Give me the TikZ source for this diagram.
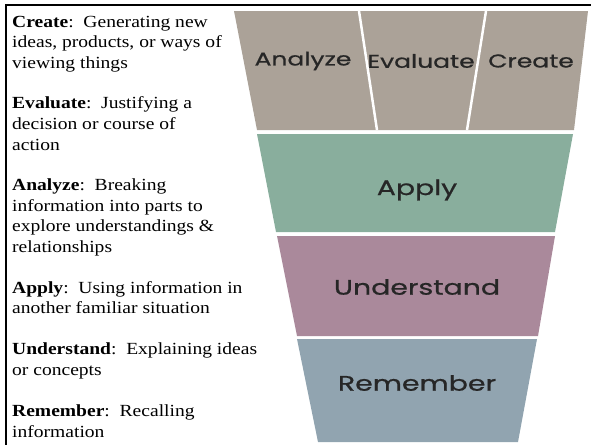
\documentclass[tikz,border=0pt]{standalone}
\usepackage{fontspec}
\setmainfont{Liberation Serif}[FakeStretch=1.15]
\newfontfamily\tierfont{Poppins}[FakeStretch=1.35, FakeBold=0.8]
\usepackage{tikz}

\definecolor{thinktan}{RGB}{171,162,152}
\definecolor{applygreen}{RGB}{137,174,157}
\definecolor{understandpink}{RGB}{170,137,155}
\definecolor{rememberblue}{RGB}{145,164,176}

\begin{document}
\begin{tikzpicture}[x=1pt,y=-1pt,
    tierlabel/.style={font=\tierfont\fontsize{21}{24}\selectfont, color=black!85, inner sep=0},
    toplabel/.style={tierlabel, font=\tierfont\fontsize{18.5}{22}\selectfont},
    levelnote/.style={font=\fontsize{17}{20.6}\selectfont, align=left, anchor=base west, inner sep=0}]
               \useasboundingbox (0,0) rectangle (591,445);
               \draw[line width=2.5pt] (5,5) -- (591,5);
               \draw[line width=2pt] (6,4) -- (6,445);
               % funnel
               \fill[color=thinktan] (234,11) -- (588,11) -- (574,130) -- (257,130) -- cycle;
               \draw[color=white, line width=2.5pt] (359,11) -- (377,130);
               \draw[color=white, line width=2.5pt] (486,11) -- (467,130);
               \fill[color=applygreen] (257,134) -- (573,134) -- (555,232) -- (276,232) -- cycle;
               \fill[color=understandpink] (277,236) -- (555,236) -- (538,336) -- (297,336) -- cycle;
               \fill[color=rememberblue] (297,339) -- (537,339) -- (518,442) -- (318,442) -- cycle;
               \node[toplabel] (analyze) at (303,61) {Analyze};
               \node[toplabel] (evaluate) at (421,61) {Evaluate};
               \node[toplabel] (create) at (531,61) {Create};
               \node[tierlabel] (apply) at (417,190) {Apply};
               \node[tierlabel] (understand) at (417,287) {Understand};
               \node[tierlabel] (remember) at (417,383) {Remember};
               % notes on the left (placed by the baseline of their last line)
               \node[levelnote] (createnote) at (12,68.2) {\textbf{Create}:\ \ Generating new\\ideas, products, or ways of\\viewing things};
               \node[levelnote] (evaluatenote) at (12,150) {\textbf{Evaluate}:\ \ Justifying a\\decision or course of\\action};
               \node[levelnote] (analyzenote) at (12,252.4) {\textbf{Analyze}:\ \ Breaking\\information into parts to\\explore understandings \&\\relationships};
               \node[levelnote] (applynote) at (12,313.8) {\textbf{Apply}:\ \ Using information in\\another familiar situation};
               \node[levelnote] (understandnote) at (12,375.4) {\textbf{Understand}:\ \ Explaining ideas\\or concepts};
               \node[levelnote] (remembernote) at (12,437) {\textbf{Remember}:\ \ Recalling\\information};
           \end{tikzpicture}
\end{document}
